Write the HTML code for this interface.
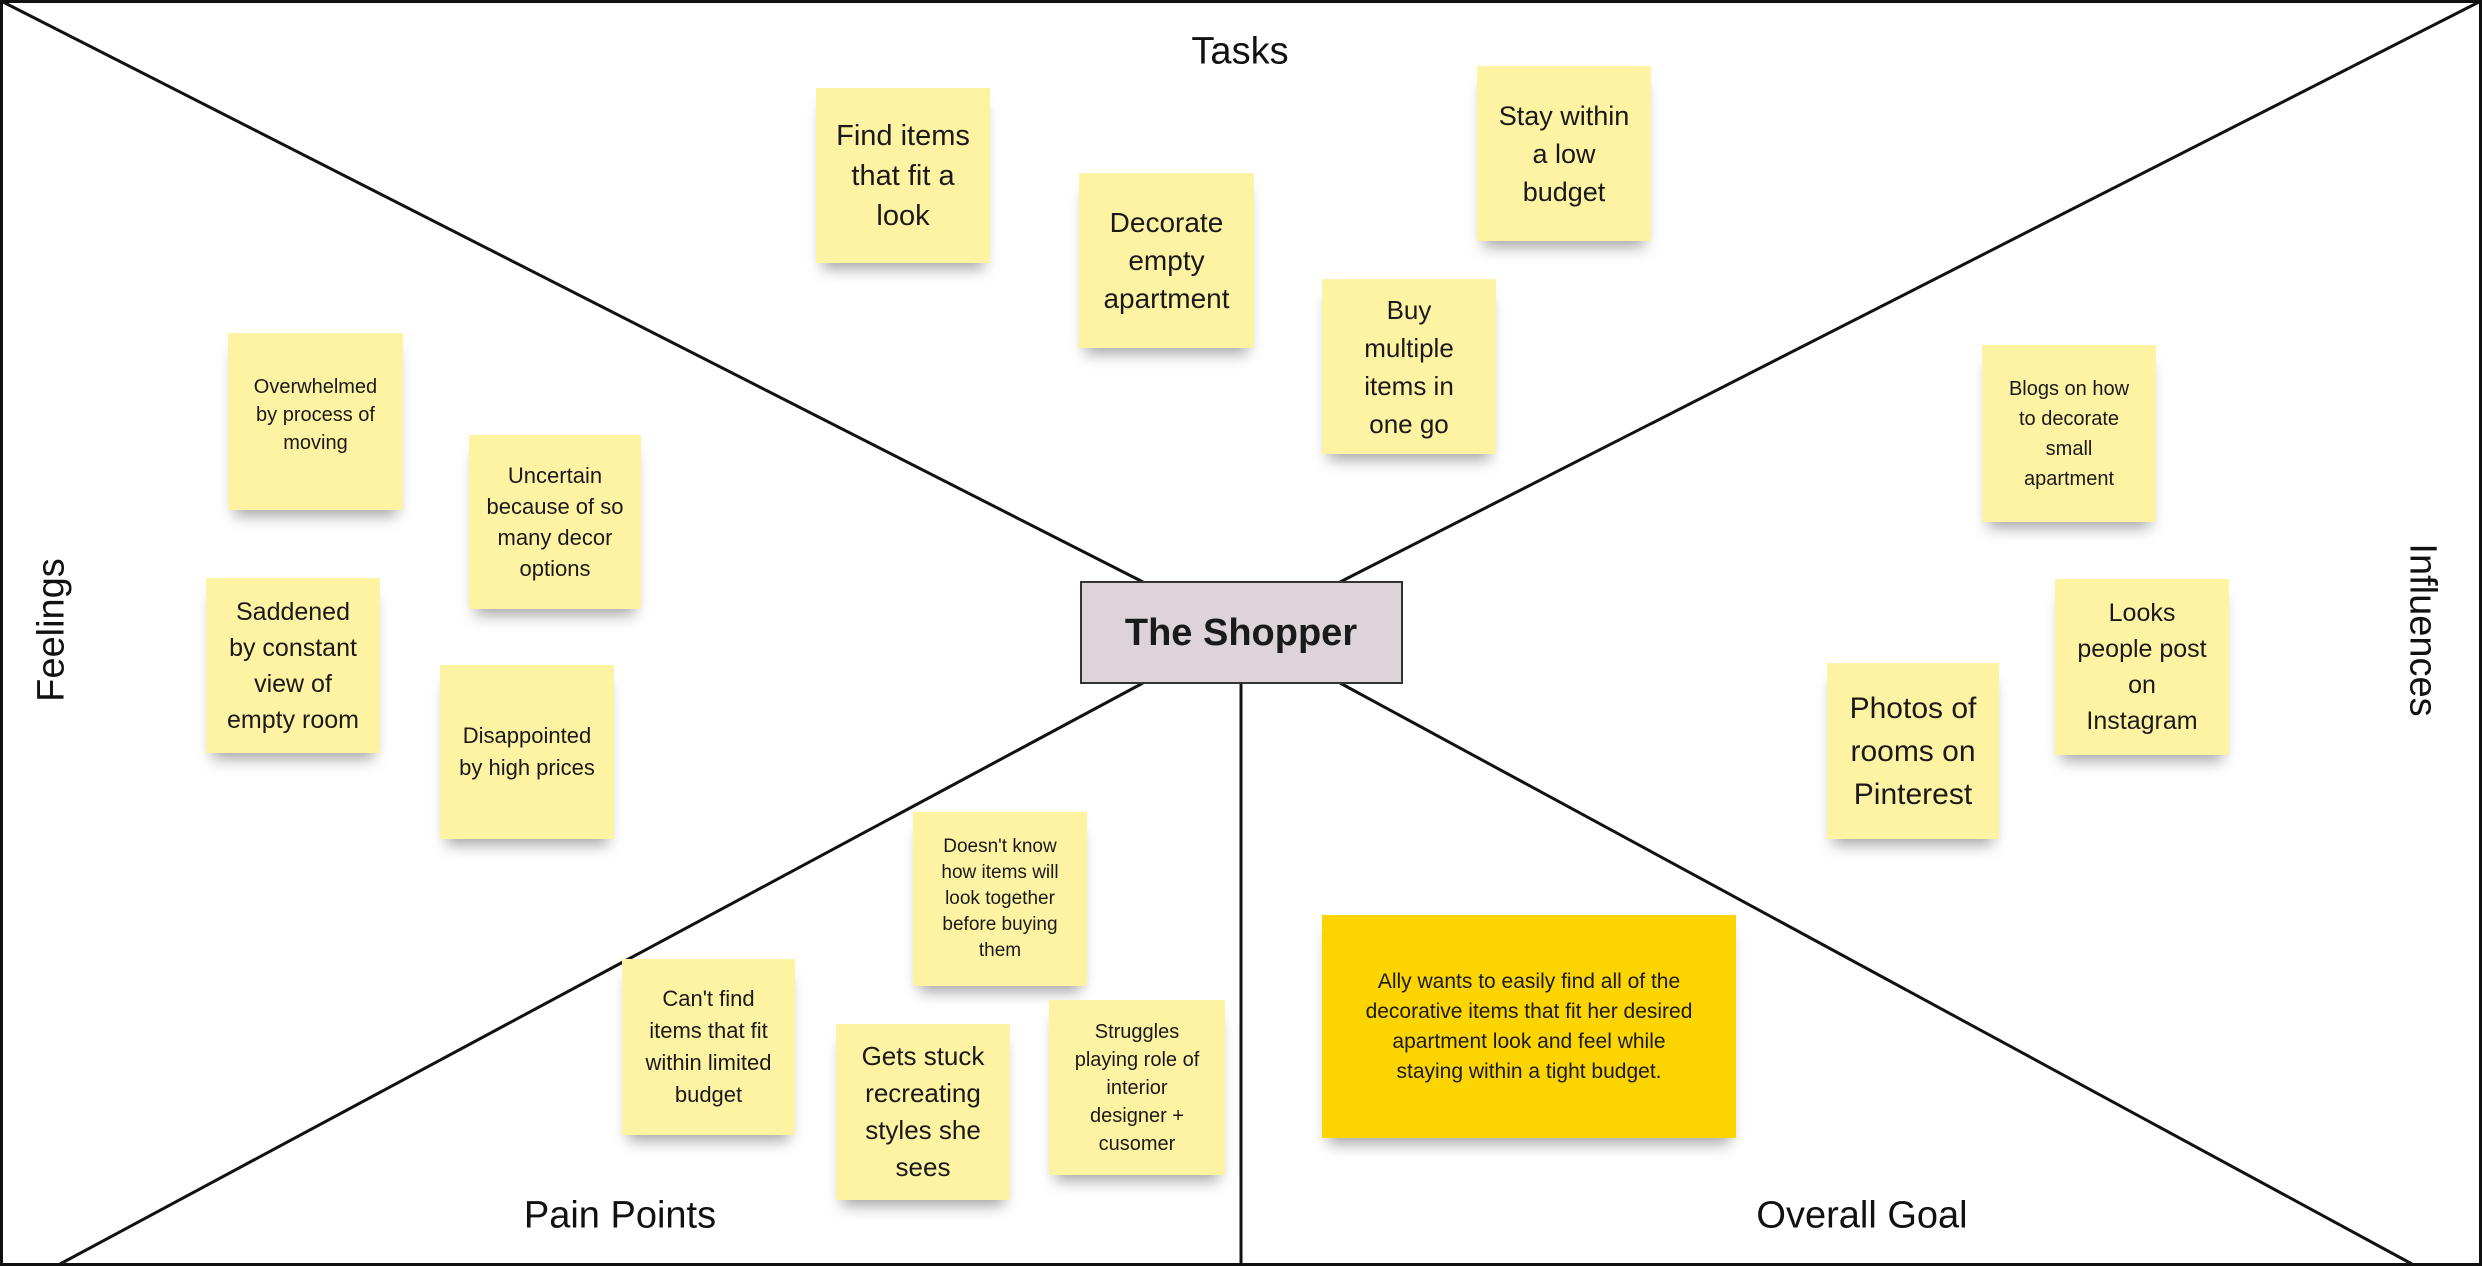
<!DOCTYPE html>
<html><head><meta charset="utf-8">
<style>
body{margin:0;width:2482px;height:1266px;background:#fff;overflow:hidden;font-family:"Liberation Sans",sans-serif;color:#1a1a1a}
.s{position:absolute;background:#fdf3a3;display:flex;align-items:center;justify-content:center;text-align:center;box-shadow:0 12px 14px -6px rgba(0,0,0,0.35);box-sizing:border-box;padding:0 4px;white-space:nowrap}
.lbl{position:absolute;font-size:38px;white-space:nowrap;color:#111}
</style></head><body>
<svg width="2482" height="1266" style="position:absolute;left:0;top:0">
<rect x="1.5" y="1.5" width="2479" height="1263" fill="none" stroke="#111" stroke-width="3"/>
<g stroke="#111" stroke-width="3">
<line x1="3" y1="2" x2="1143" y2="582"/>
<line x1="2479" y1="2" x2="1340" y2="582"/>
<line x1="60" y1="1264" x2="1143" y2="683"/>
<line x1="2412" y1="1264" x2="1340" y2="683"/>
<line x1="1241" y1="683" x2="1241" y2="1264"/>
</g>
<rect x="1081" y="582" width="321" height="101" fill="#dcd4d8" stroke="#333" stroke-width="2"/>
<text x="1241" y="645" text-anchor="middle" font-family="Liberation Sans,sans-serif" font-weight="bold" font-size="38" fill="#1a1a1a">The Shopper</text>
</svg>

<div class="lbl" style="left:1240px;top:52px;transform:translate(-50%,-50%)">Tasks</div>
<div class="lbl" style="left:52px;top:630px;transform:translate(-50%,-50%) rotate(-90deg)">Feelings</div>
<div class="lbl" style="left:2422px;top:630px;transform:translate(-50%,-50%) rotate(90deg)">Influences</div>
<div class="lbl" style="left:620px;top:1216px;transform:translate(-50%,-50%)">Pain Points</div>
<div class="lbl" style="left:1862px;top:1216px;transform:translate(-50%,-50%)">Overall Goal</div>

<div class="s" style="left:816px;top:88px;width:174px;height:175px;font-size:29px;line-height:40px">Find items<br>that fit a<br>look</div>
<div class="s" style="left:1079px;top:173px;width:175px;height:175px;font-size:28px;line-height:38px">Decorate<br>empty<br>apartment</div>
<div class="s" style="left:1477px;top:66px;width:174px;height:175px;font-size:27px;line-height:38px">Stay within<br>a low<br>budget</div>
<div class="s" style="left:1322px;top:279px;width:174px;height:175px;font-size:26px;line-height:38px">Buy<br>multiple<br>items in<br>one go</div>

<div class="s" style="left:228px;top:333px;width:175px;height:177px;font-size:20px;line-height:28px;padding-bottom:14px">Overwhelmed<br>by process of<br>moving</div>
<div class="s" style="left:469px;top:435px;width:172px;height:174px;font-size:22px;line-height:31px">Uncertain<br>because of so<br>many decor<br>options</div>
<div class="s" style="left:206px;top:578px;width:174px;height:175px;font-size:25px;line-height:36px">Saddened<br>by constant<br>view of<br>empty room</div>
<div class="s" style="left:440px;top:665px;width:174px;height:174px;font-size:22px;line-height:32px">Disappointed<br>by high prices</div>

<div class="s" style="left:1982px;top:345px;width:174px;height:177px;font-size:20px;line-height:30px">Blogs on how<br>to decorate<br>small<br>apartment</div>
<div class="s" style="left:2055px;top:579px;width:174px;height:176px;font-size:25px;line-height:36px">Looks<br>people post<br>on<br>Instagram</div>
<div class="s" style="left:1827px;top:663px;width:172px;height:176px;font-size:30px;line-height:43px">Photos of<br>rooms on<br>Pinterest</div>

<div class="s" style="left:913px;top:812px;width:174px;height:174px;font-size:19px;line-height:26px">Doesn't know<br>how items will<br>look together<br>before buying<br>them</div>
<div class="s" style="left:622px;top:959px;width:173px;height:176px;font-size:22px;line-height:32px">Can't find<br>items that fit<br>within limited<br>budget</div>
<div class="s" style="left:836px;top:1024px;width:174px;height:176px;font-size:26px;line-height:37px">Gets stuck<br>recreating<br>styles she<br>sees</div>
<div class="s" style="left:1049px;top:1000px;width:176px;height:175px;font-size:20px;line-height:28px">Struggles<br>playing role of<br>interior<br>designer +<br>cusomer</div>

<div class="s" style="left:1322px;top:915px;width:414px;height:223px;background:#fcd400;font-size:21px;line-height:30px">Ally wants to easily find all of the<br>decorative items that fit her desired<br>apartment look and feel while<br>staying within a tight budget.</div>
</body></html>
